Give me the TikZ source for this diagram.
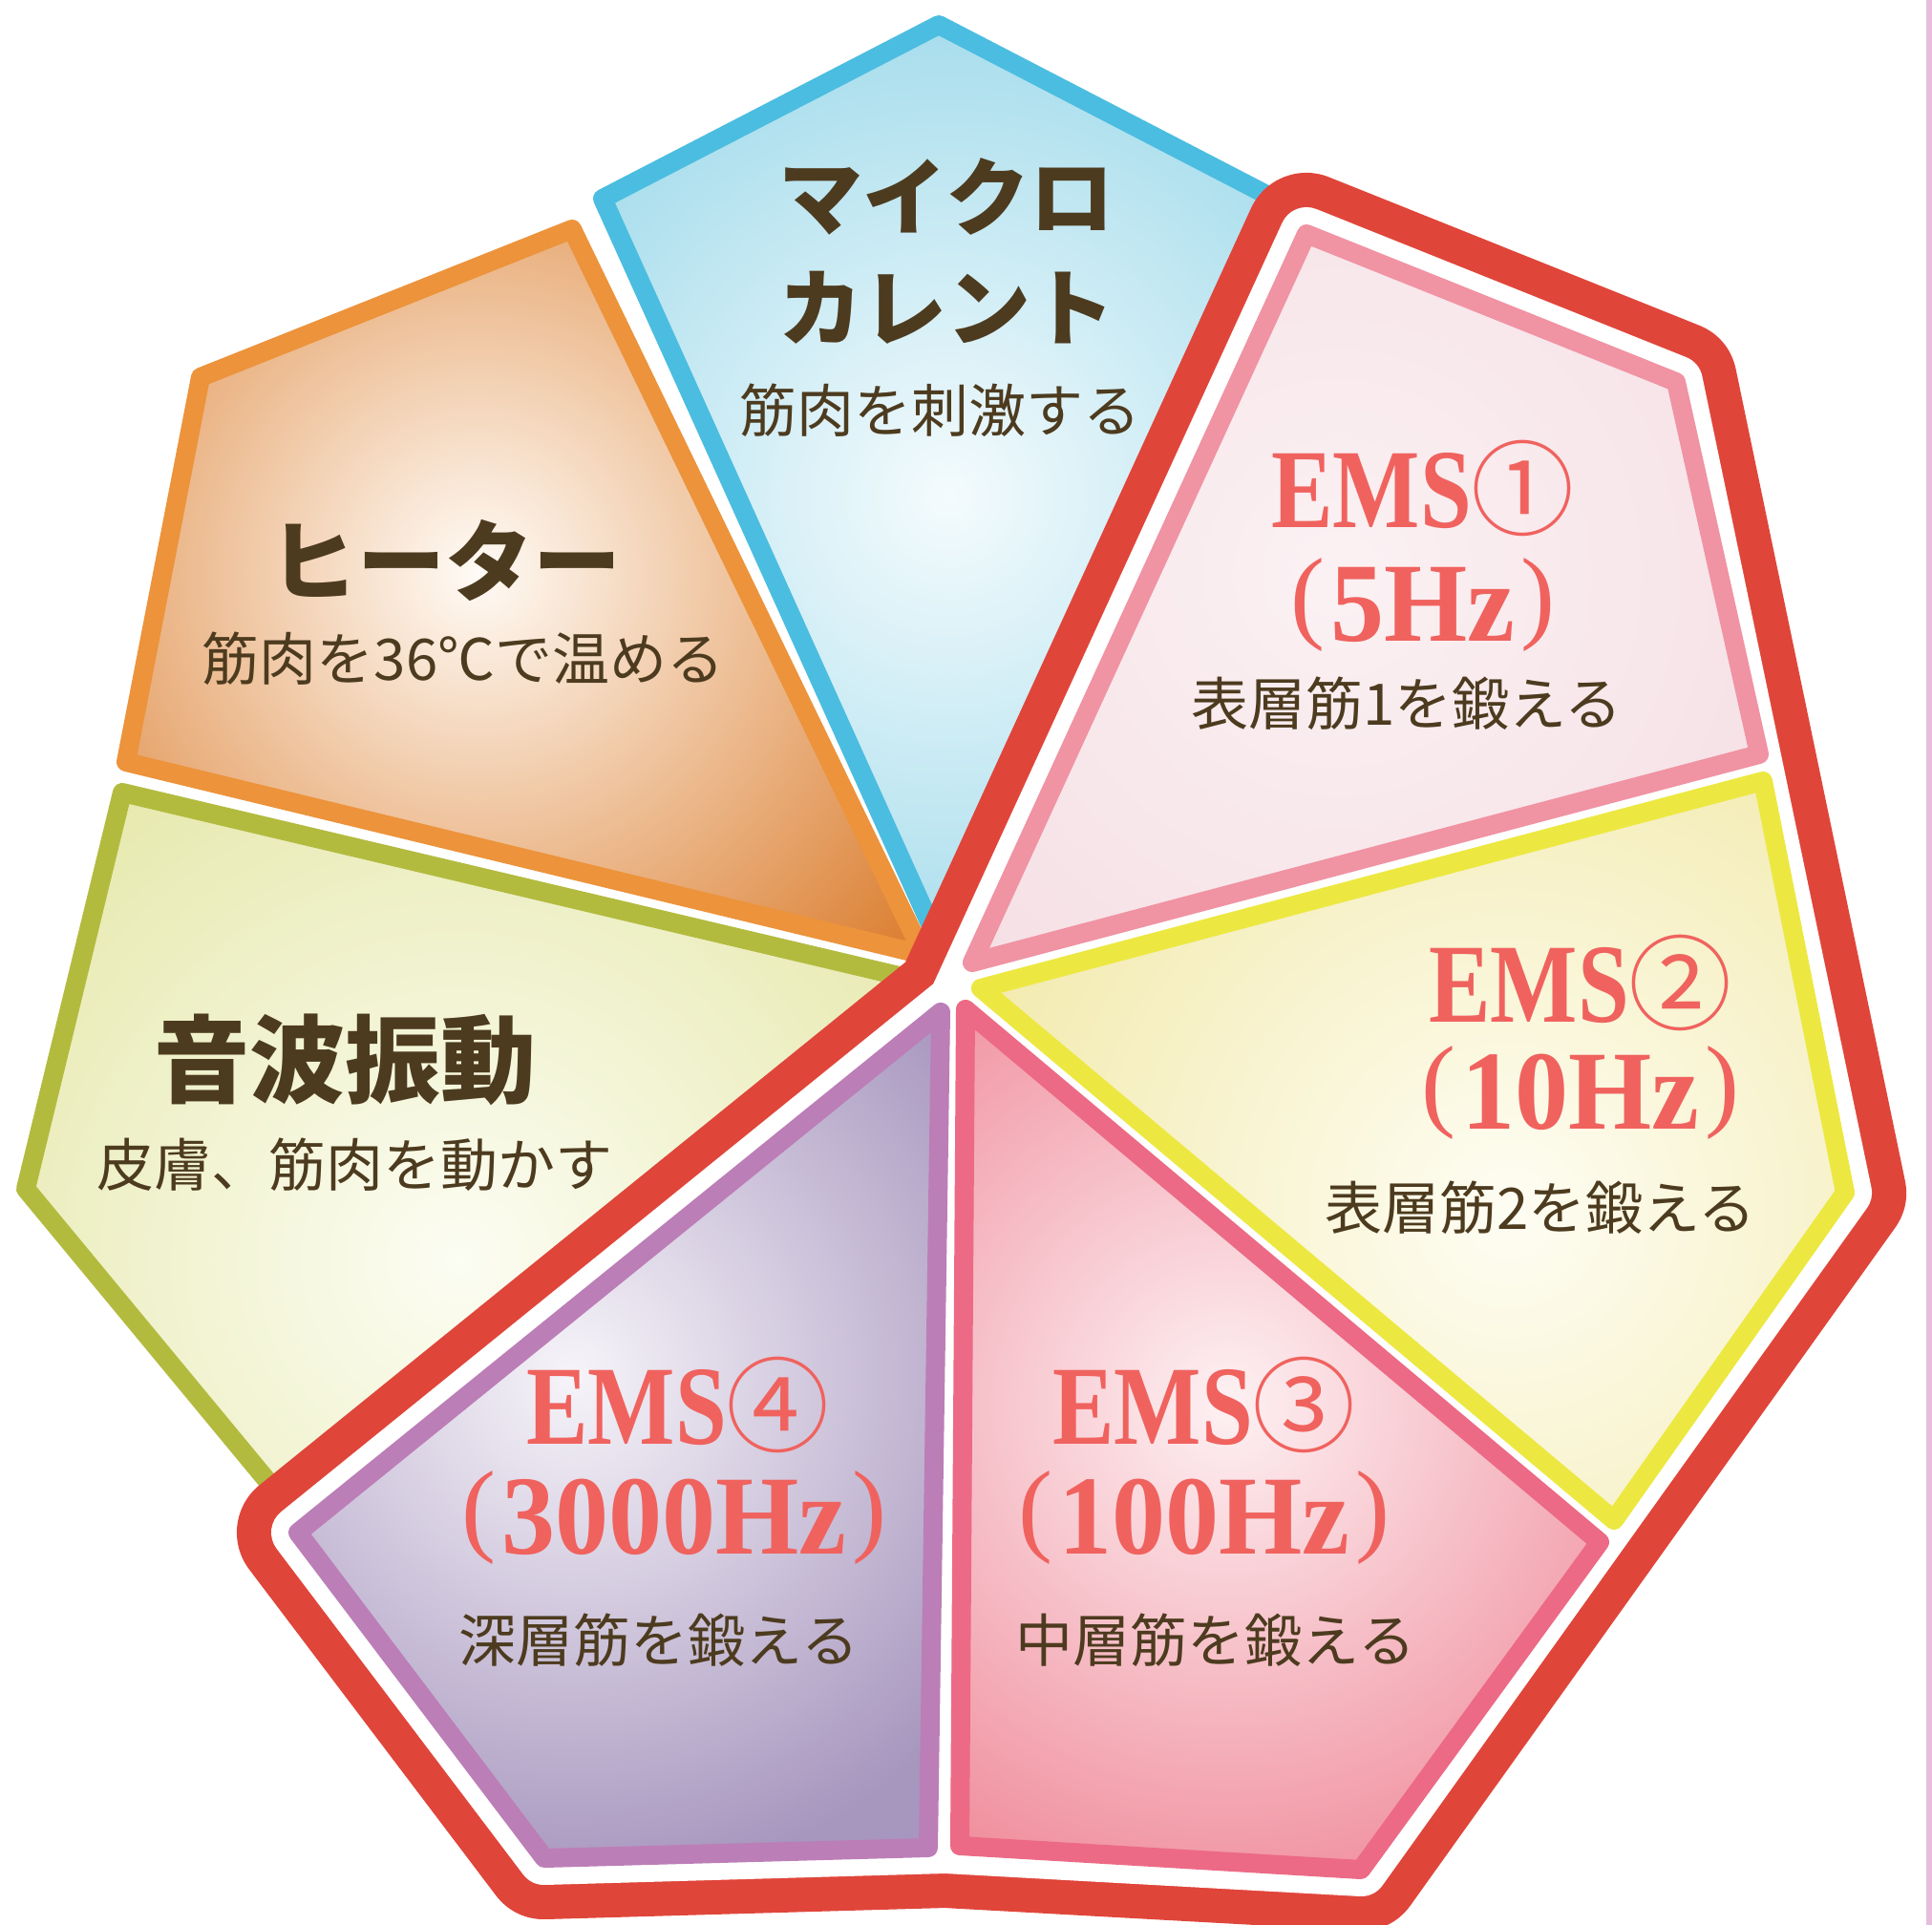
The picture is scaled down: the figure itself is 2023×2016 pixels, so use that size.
\documentclass[tikz,border=0pt]{standalone}
\usepackage{fontspec}
\usepackage{graphicx}
\newfontfamily\jp{Noto Sans CJK JP}
\newfontfamily\ser{Liberation Serif}
\usetikzlibrary{calc}

\definecolor{bluebd}{HTML}{4BBDE0}\definecolor{blueout}{HTML}{8BD2E6}\definecolor{bluein}{HTML}{F4FBFD}
\definecolor{orbd}{HTML}{EC933B}\definecolor{orout}{HTML}{DC8236}\definecolor{orin}{HTML}{FFFBF6}
\definecolor{grbd}{HTML}{B3BB3F}\definecolor{grout}{HTML}{DCDF8C}\definecolor{grin}{HTML}{FCFDF3}
\definecolor{pubd}{HTML}{BC7EB7}\definecolor{puout}{HTML}{A796BE}\definecolor{puin}{HTML}{F6F4F9}
\definecolor{tbd}{HTML}{EC6A85}\definecolor{tout}{HTML}{F08E9D}\definecolor{tin}{HTML}{FDF1F3}
\definecolor{yebd}{HTML}{ECE841}\definecolor{yeout}{HTML}{EEE393}\definecolor{yein}{HTML}{FEFDF3}
\definecolor{ebd}{HTML}{F093A3}\definecolor{eout}{HTML}{F0D1D9}\definecolor{ein}{HTML}{FBF1F3}
\definecolor{redln}{HTML}{E0453A}
\definecolor{txtbrown}{HTML}{4D3B1F}
\definecolor{emsred}{HTML}{F0625E}
\definecolor{stripcol}{HTML}{E6BEDC}

\newcommand\drawkite[6]{%
  \fill[#3] (#1a)--(#1b)--(#1c)--(#1d)--cycle;
  \begin{scope}
    \clip (#1a)--(#1b)--(#1c)--(#1d)--cycle;
    \shade[inner color=#4,outer color=#3] (#5) circle (#6);
  \end{scope}
  \draw[kiteborder,#2] (#1a)--(#1b)--(#1c)--(#1d)--cycle;
}
\newcommand\emsA[1]{\scalebox{0.82}[1]{\ser\bfseries\fontsize{59}{59}\selectfont EMS}{\jp\fontsize{54}{54}\selectfont #1}}
\newcommand\emsParen[1]{\raisebox{6pt}{\ser\fontsize{54}{54}\selectfont #1}}
\newcommand\emsB[1]{\emsParen{(}\kern3pt\scalebox{0.95}[1]{\ser\bfseries\fontsize{59}{59}\selectfont #1}\kern3pt\emsParen{)}}

\tikzset{
  kiteborder/.style={line width=10pt,line join=round},
  head/.style={text=txtbrown,inner sep=0pt,font={\jp\bfseries\fontsize{44}{44}\selectfont}},
  sub/.style={text=txtbrown,inner sep=0pt,font={\jp\fontsize{30}{30}\selectfont}},
  ems/.style={text=emsred,inner sep=0pt},
}

\begin{document}
\begin{tikzpicture}[x=0.5pt,y=-0.5pt]
\useasboundingbox (0,0) rectangle (2023,2016);
\fill[white] (0,0) rectangle (2023,2016);
\fill[stripcol] (2017,0) rectangle (2023,2016);

% left group
\coordinate (Ba) at (980,981);  \coordinate (Bb) at (631,208);  \coordinate (Bc) at (983,26);   \coordinate (Bd) at (1334,208);
\coordinate (Oa) at (967,1000); \coordinate (Ob) at (599,240);  \coordinate (Oc) at (210,395);  \coordinate (Od) at (132,798);
\coordinate (Ga) at (954,1025); \coordinate (Gb) at (128,830);  \coordinate (Gc) at (27,1245);  \coordinate (Gd) at (290,1563);
% right group
\coordinate (Pa) at (985,1060); \coordinate (Pb) at (312,1605); \coordinate (Pc) at (570,1946); \coordinate (Pd) at (972,1935);
\coordinate (Ta) at (1011,1057);\coordinate (Tb) at (1005,1933);\coordinate (Tc) at (1425,1958);\coordinate (Td) at (1675,1615);
\coordinate (Ya) at (1027,1035);\coordinate (Yb) at (1690,1592);\coordinate (Yc) at (1932,1249);\coordinate (Yd) at (1846,818);
\coordinate (Ea) at (1018,1008);\coordinate (Eb) at (1842,790); \coordinate (Ec) at (1755,400); \coordinate (Ed) at (1368,245);
\coordinate (Rj) at (1000,1048);\coordinate (Rk) at (990,1934);

\coordinate (cB) at (993,520);  \coordinate (cO) at (500,600);  \coordinate (cG) at (480,1320);
\coordinate (cP) at (600,1440); \coordinate (cT) at (1285,1470);\coordinate (cY) at (1580,1270);
\coordinate (cE) at (1400,600);

\drawkite{B}{bluebd}{blueout}{bluein}{cB}{680}
\drawkite{O}{orbd}{orout}{orin}{cO}{580}
\drawkite{G}{grbd}{grout}{grin}{cG}{900}

% red outline around the EMS group
\draw[redln,line width=64pt,line join=round] (Rj)--(Ed)--(Ec)--(Yc)--(Tc)--(Rk)--(Pc)--(Pb)--cycle;
\draw[white,fill=white,line width=28pt,line join=round] (Rj)--(Ed)--(Ec)--(Yc)--(Tc)--(Rk)--(Pc)--(Pb)--cycle;

\drawkite{E}{ebd}{eout}{ein}{cE}{1000}
\drawkite{Y}{yebd}{yeout}{yein}{cY}{840}
\drawkite{T}{tbd}{tout}{tin}{cT}{540}
\drawkite{P}{pubd}{puout}{puin}{cP}{540}

% texts
\node[head] (h1) at (991,206) {マイクロ};
\node[head] (h2) at (991,322) {カレント};
\node[sub]  (s1) at (984,430) {筋肉を刺激する};
\node[head,font={\jp\bfseries\fontsize{46}{46}\selectfont}] (h3) at (466,587) {ヒーター};
\node[sub]  (s2) at (485,690) {筋肉を36℃で温める};
\node[head,font={\jp\bfseries\fontsize{50}{50}\selectfont}] (h4) at (361,1110) {音波振動};
\node[sub]  (s3) at (371,1220) {皮膚、筋肉を動かす};

\node[ems] (e1a) at (1490,511) {\emsA{①}};
\node[ems] (e1b) at (1490,634) {\emsB{5Hz}};
\node[sub] (e1c) at (1473,737) {表層筋1を鍛える};

\node[ems] (e2a) at (1655,1029) {\emsA{②}};
\node[ems] (e2b) at (1655,1145) {\emsB{10Hz}};
\node[sub] (e2c) at (1613,1265) {表層筋2を鍛える};

\node[ems] (e3a) at (1261,1471) {\emsA{③}};
\node[ems] (e3b) at (1261,1590) {\emsB{100Hz}};
\node[sub] (e3c) at (1273,1718) {中層筋を鍛える};

\node[ems] (e4a) at (710,1471) {\emsA{④}};
\node[ems] (e4b) at (706,1590) {\emsB{3000Hz}};
\node[sub] (e4c) at (690,1718) {深層筋を鍛える};
\end{tikzpicture}
\end{document}
